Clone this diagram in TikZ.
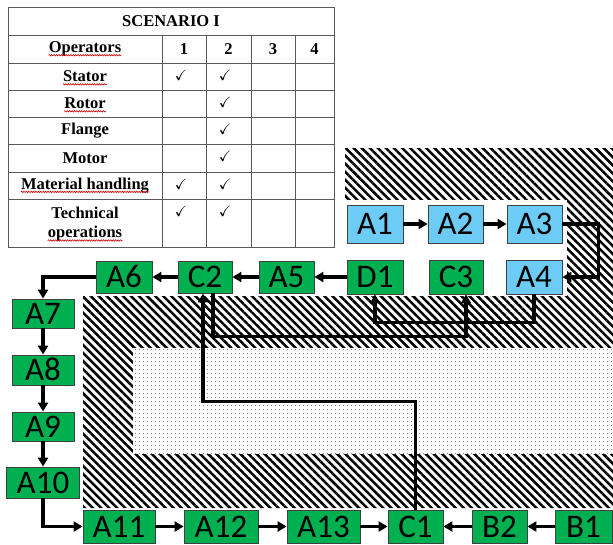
\documentclass[tikz,border=0pt]{standalone}
\usepackage{amssymb}
\usepackage{fontspec}
\setmainfont{Liberation Serif}
\newfontfamily\boxfont{Carlito}
\usepackage{tikz}
\usetikzlibrary{arrows.meta,patterns.meta,decorations.pathmorphing}
\definecolor{boxgreen}{RGB}{0,176,80}
\definecolor{boxblue}{RGB}{108,204,246}

\begin{document}
\begin{tikzpicture}[x=1pt,y=-1pt,
    box/.style={draw=black!75, line width=0.8pt, inner sep=0pt, text height=21pt, text depth=0pt,
      font=\boxfont\fontsize{33}{33}\selectfont},
    gbox/.style={box, fill=boxgreen},
    bbox/.style={box, fill=boxblue},
    flow/.style={line width=3.2pt, -{Triangle[length=9pt,width=10pt]}},
    cell/.style={font=\bfseries\fontsize{16.5}{18}\selectfont, inner sep=0pt},
    tick/.style={font=\fontsize{15}{15}\selectfont, inner sep=0pt},
    grid/.style={gray!70!black, line width=0.8pt},
    spell/.style={red!80!black, line width=0.6pt, decorate,
      decoration={snake, amplitude=0.7pt, segment length=2.4pt}},
    hatch/.style={pattern={Lines[angle=-45, distance=5.7pt, line width=2.5pt]}},
    stipple/.style={pattern={Dots[distance=4pt, radius=0.55pt]}, pattern color=black!80}]
\useasboundingbox (0,0) rectangle (613,544);

% zones
\fill[hatch] (345,148) -- (613,148) -- (613,508) -- (83,508) -- (83,296) -- (345,296) -- cycle;
\fill[white] (345,200) rectangle (567,296);
\fill[white] (133,348) rectangle (613,454);
\fill[stipple] (133,348) rectangle (613,454);

% table
\draw[grid] (8,7) rectangle (334,247);
\foreach \y in {35,63,90,117,144,172,199}
    \draw[grid] (8,\y) -- (334,\y);
\foreach \x in {162,206,251,295}
    \draw[grid] (\x,35) -- (\x,247);
\node[cell] (title) at (171,21) {SCENARIO I};
\node[cell] (opr) at (85,49) {Operators};
\node[cell] (h1) at (184,49) {1};
\node[cell] (h2) at (228.5,49) {2};
\node[cell] (h3) at (273,49) {3};
\node[cell] (h4) at (314.5,49) {4};
\node[cell] (stator) at (85,76.5) {Stator};
\node[cell] (rotor) at (85,103.5) {Rotor};
\node[cell] (flange) at (85,130.5) {Flange};
\node[cell] (motor) at (85,158) {Motor};
\node[cell] (mat) at (85,185.5) {Material handling};
\node[cell] (tech) at (85,213) {Technical};
\node[cell] (oper) at (85,234) {operations};
\foreach \x/\y [count=\i] in {181/75,225/75,225/102,225/129,225/156,181/184,225/184,181/211,225/211}
    \node[tick] (ck\i) at (\x,\y) {$\checkmark$};
\foreach \n in {opr,stator,rotor,mat,oper}
    \draw[spell] ([yshift=-2.5pt]\n.base west) -- ([yshift=-2.5pt]\n.base east);

% stations
\node[bbox, minimum width=56, minimum height=38] (A1) at (375,224) {A1};
\node[bbox, minimum width=55, minimum height=38] (A2) at (455.5,224) {A2};
\node[bbox, minimum width=55, minimum height=38] (A3) at (534.5,224) {A3};
\node[bbox, minimum width=56, minimum height=34] (A4) at (534,277) {A4};
\node[gbox, minimum width=54, minimum height=34] (C3) at (456,277) {C3};
\node[gbox, minimum width=56, minimum height=34] (D1) at (375,277) {D1};
\node[gbox, minimum width=55, minimum height=32] (A5) at (286.5,277) {A5};
\node[gbox, minimum width=54, minimum height=32] (C2) at (205,277) {C2};
\node[gbox, minimum width=56, minimum height=32] (A6) at (124,277) {A6};
\node[gbox, minimum width=62, minimum height=29] (A7) at (43,313.5) {A7};
\node[gbox, minimum width=62, minimum height=30] (A8) at (43,370) {A8};
\node[gbox, minimum width=62, minimum height=29] (A9) at (43,426.5) {A9};
\node[gbox, minimum width=73, minimum height=31] (A10) at (43,482.5) {A10};
\node[gbox, minimum width=72, minimum height=33] (A11) at (119,526.5) {A11};
\node[gbox, minimum width=74, minimum height=33] (A12) at (221,526.5) {A12};
\node[gbox, minimum width=73, minimum height=33] (A13) at (323.5,526.5) {A13};
\node[gbox, minimum width=55, minimum height=33] (C1) at (415.5,526.5) {C1};
\node[gbox, minimum width=55, minimum height=33] (B2) at (499.5,526.5) {B2};
\node[gbox, minimum width=57, minimum height=33] (B1) at (583.5,526.5) {B1};

% flow
\draw[flow] (A1) -- (A2);
\draw[flow] (A2) -- (A3);
\draw[flow] (A3.east) -- ++(36,0) |- (A4.east);
\draw[flow] ([xshift=8pt]C2.south) -- ++(0,43) -| ([xshift=10pt]C3.south);
\draw[flow] (A4.south) -- ++(0,28) -| (D1.south);
\draw[flow] (C1.north) -- ++(0,-108) -| ([xshift=-2pt]C2.south);
\draw[flow] (D1) -- (A5);
\draw[flow] (A5) -- (C2);
\draw[flow] (C2) -- (A6);
\draw[flow] (A6.west) -| (A7.north);
\draw[flow] (A7) -- (A8);
\draw[flow] (A8) -- (A9);
\draw[flow] (A9) -- (A10);
\draw[flow] (A10.south) |- (A11.west);
\draw[flow] (A11) -- (A12);
\draw[flow] (A12) -- (A13);
\draw[flow] (A13) -- (C1);
\draw[flow] (B2) -- (C1);
\draw[flow] (B1) -- (B2);
\end{tikzpicture}
\end{document}
